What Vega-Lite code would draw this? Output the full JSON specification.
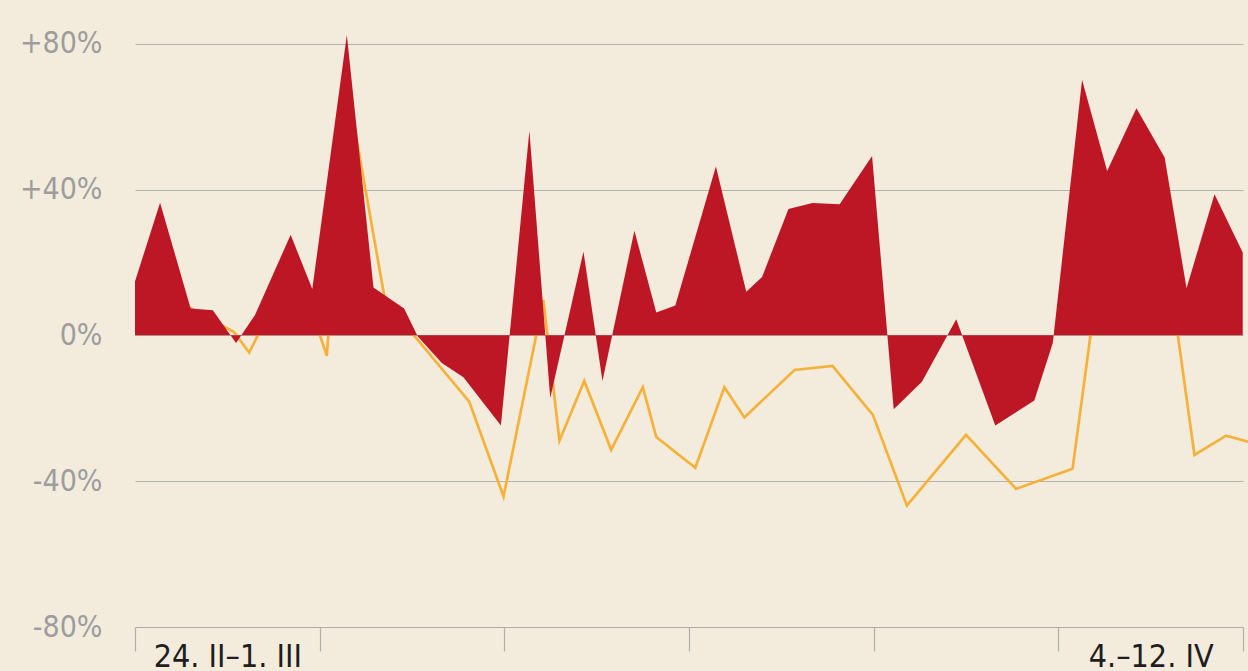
{
  "$schema": "https://vega.github.io/schema/vega-lite/v6.json",
  "width": 1108,
  "height": 627,
  "autosize": {"type": "none"},
  "padding": {"left": 135, "top": 0, "right": 5, "bottom": 44},
  "background": "#f3ecdd",
  "config": {
    "view": {"stroke": null},
    "font": "DejaVu Sans Condensed, sans-serif"
  },
  "datasets": {
    "red": [
      {"t": 0.00, "v": 14.8}, {"t": 0.95, "v": 36.4}, {"t": 2.11, "v": 7.4}, {"t": 2.95, "v": 6.9},
      {"t": 3.83, "v": -2.1}, {"t": 4.55, "v": 5.6}, {"t": 5.90, "v": 27.6}, {"t": 6.72, "v": 12.7},
      {"t": 8.03, "v": 82.4}, {"t": 9.04, "v": 13.1}, {"t": 10.20, "v": 7.4}, {"t": 10.72, "v": -0.3},
      {"t": 11.63, "v": -7.6}, {"t": 12.45, "v": -11.5}, {"t": 13.87, "v": -24.7}, {"t": 14.95, "v": 56.1},
      {"t": 15.74, "v": -17.2}, {"t": 17.00, "v": 23.0}, {"t": 17.72, "v": -12.5}, {"t": 18.93, "v": 28.7},
      {"t": 19.76, "v": 6.3}, {"t": 20.48, "v": 8.2}, {"t": 22.02, "v": 46.3}, {"t": 23.17, "v": 12.0},
      {"t": 23.77, "v": 16.0}, {"t": 24.77, "v": 34.7}, {"t": 25.68, "v": 36.3}, {"t": 26.71, "v": 36.0},
      {"t": 27.94, "v": 49.2}, {"t": 28.76, "v": -20.3}, {"t": 29.83, "v": -12.7}, {"t": 31.13, "v": 4.4},
      {"t": 32.61, "v": -24.7}, {"t": 34.09, "v": -17.9}, {"t": 34.79, "v": -2.1}, {"t": 35.90, "v": 70.1},
      {"t": 36.85, "v": 45.1}, {"t": 37.96, "v": 62.3}, {"t": 39.03, "v": 48.8}, {"t": 39.86, "v": 12.9},
      {"t": 40.92, "v": 38.7}, {"t": 41.99, "v": 22.7}
    ],
    "orange": [
      {"t": 0.00, "v": 1.0}, {"t": 2.11, "v": 7.5}, {"t": 3.75, "v": 0.9}, {"t": 4.33, "v": -4.7},
      {"t": 5.69, "v": 15.0}, {"t": 6.71, "v": 6.5}, {"t": 7.27, "v": -5.6}, {"t": 8.03, "v": 69.0},
      {"t": 9.48, "v": 9.5}, {"t": 12.67, "v": -18.2}, {"t": 13.97, "v": -44.2}, {"t": 15.48, "v": 9.7},
      {"t": 16.09, "v": -28.9}, {"t": 17.03, "v": -12.5}, {"t": 18.05, "v": -31.4}, {"t": 19.25, "v": -14.2},
      {"t": 19.76, "v": -27.9}, {"t": 21.24, "v": -36.3}, {"t": 22.34, "v": -14.2}, {"t": 23.10, "v": -22.5},
      {"t": 25.00, "v": -9.5}, {"t": 26.44, "v": -8.4}, {"t": 27.97, "v": -21.8}, {"t": 29.26, "v": -46.7},
      {"t": 31.50, "v": -27.3}, {"t": 33.40, "v": -42.1}, {"t": 35.54, "v": -36.6}, {"t": 36.48, "v": 14.0},
      {"t": 37.92, "v": 18.0}, {"t": 39.32, "v": 11.0}, {"t": 40.16, "v": -32.8}, {"t": 41.36, "v": -27.5},
      {"t": 42.28, "v": -29.3}
    ]
  },
  "layer": [
    {
      "data": {"name": "orange"},
      "mark": {"type": "line", "color": "#f6b13a", "strokeWidth": 2.7, "strokeJoin": "miter"},
      "encoding": {
        "x": {
          "field": "t", "type": "quantitative",
          "scale": {"domain": [0, 42], "nice": false, "zero": false},
          "axis": {
            "values": [0, 7, 14, 21, 28, 35, 42],
            "grid": false,
            "domainColor": "#b0aea9", "domainWidth": 1.2,
            "tickColor": "#b0aea9", "tickWidth": 1.2, "tickSize": 24,
            "labelExpr": "datum.value == 0 ? '24. II–1. III' : (datum.value == 35 ? '4.–12. IV' : '')",
            "labelOffset": 92.3, "labelPadding": -10, "labelBaseline": "top", "labelAlign": "center",
            "labelFontSize": 32, "labelColor": "#1e1e1e",
            "labelOverlap": false, "labelBound": false, "labelFlush": false,
            "title": null
          }
        },
        "y": {
          "field": "v", "type": "quantitative",
          "scale": {"domain": [-80, 92], "nice": false, "zero": false},
          "axis": {
            "values": [-80, -40, 0, 40, 80],
            "grid": true, "gridColor": "#b5b3ae", "gridWidth": 1.2,
            "domain": false, "ticks": false,
            "labelPadding": 33, "labelFontSize": 30, "labelColor": "#9d9d9d",
            "labelExpr": "(datum.value > 0 ? '+' : '') + datum.value + '%'",
            "title": null
          }
        }
      }
    },
    {
      "data": {"name": "red"},
      "mark": {"type": "area", "color": "#bd1624", "opacity": 1},
      "encoding": {
        "x": {"field": "t", "type": "quantitative", "scale": {"domain": [0, 42], "nice": false, "zero": false}},
        "y": {"field": "v", "type": "quantitative", "scale": {"domain": [-80, 92], "nice": false, "zero": false}},
        "y2": {"datum": 0}
      }
    }
  ]
}
